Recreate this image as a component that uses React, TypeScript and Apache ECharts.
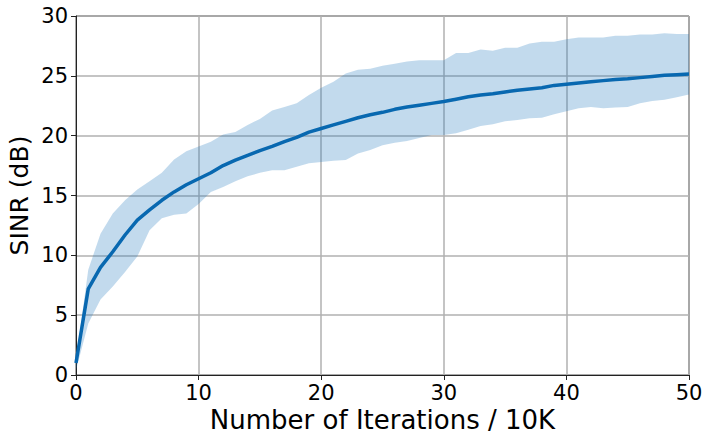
import React, { useEffect, useRef } from "react";
import * as echarts from "echarts";

const iterations: number[] = Array.from({ length: 51 }, (_, i) => i);

const meanSinr: number[] = [
  1.0, 7.2, 9.0, 10.3, 11.7, 12.95, 13.8, 14.6, 15.3, 15.9,
  16.4, 16.9, 17.5, 17.95, 18.35, 18.75, 19.1, 19.5, 19.85, 20.3,
  20.6, 20.9, 21.2, 21.5, 21.75, 21.95, 22.2, 22.4, 22.55, 22.7,
  22.85, 23.05, 23.25, 23.4, 23.5, 23.65, 23.8, 23.9, 24.0, 24.2,
  24.3, 24.4, 24.5, 24.6, 24.7, 24.75, 24.85, 24.95, 25.05, 25.1,
  25.15,
];

const upperSinr: number[] = [
  1.3, 8.8, 11.8, 13.5, 14.6, 15.5, 16.2, 16.9, 18.0, 18.7,
  19.1, 19.5, 20.1, 20.3, 20.9, 21.4, 22.1, 22.4, 22.7, 23.4,
  24.0, 24.5, 25.2, 25.5, 25.6, 25.85, 26.0, 26.2, 26.3, 26.3,
  26.3, 26.9, 26.9, 27.2, 27.1, 27.35, 27.35, 27.7, 27.85, 27.85,
  28.05, 28.2, 28.2, 28.2, 28.35, 28.35, 28.45, 28.45, 28.55, 28.5,
  28.5,
];

const lowerSinr: number[] = [
  0.4, 4.3, 6.3, 7.4, 8.6, 9.9, 12.1, 13.1, 13.4, 13.5,
  14.3, 15.3, 15.7, 16.2, 16.6, 16.9, 17.1, 17.1, 17.4, 17.7,
  17.8, 17.9, 17.97, 18.5, 18.8, 19.2, 19.4, 19.55, 19.8, 20.05,
  20.05, 20.2, 20.5, 20.8, 20.95, 21.2, 21.3, 21.45, 21.5, 21.8,
  22.05, 22.3, 22.4, 22.3, 22.35, 22.4, 22.7, 22.9, 23.0, 23.2,
  23.45,
];

const xTicks = { min: 0, max: 50, interval: 10 };
const yTicks = { min: 0, max: 30, interval: 5 };

const FONT = "DejaVu Sans";

export default function App() {
  const ref = useRef<HTMLDivElement>(null);

  useEffect(() => {
    if (!ref.current) return;
    const chart = echarts.init(ref.current, undefined, { renderer: "svg" });
    const gridLine = { show: true, lineStyle: { color: "#b0b0b0", width: 1.5 } };
    chart.setOption({
      animation: false,
      grid: {
        left: 76,
        right: 15,
        top: 16,
        bottom: 59,
        outerBoundsMode: "none",
        containLabel: false,
        show: true,
        borderColor: "#222",
        borderWidth: 1,
        backgroundColor: "transparent",
      },
      xAxis: {
        type: "value",
        min: xTicks.min,
        max: xTicks.max,
        interval: xTicks.interval,
        name: "Number of Iterations / 10K",
        nameLocation: "middle",
        nameGap: 34,
        nameMoveOverlap: false,
        nameTextStyle: { fontFamily: FONT, fontSize: 26, color: "#000", lineHeight: 22 },
        axisLine: { show: true, lineStyle: { color: "#222", width: 1 } },
        axisTick: { show: true, inside: false, length: 5, lineStyle: { color: "#222" } },
        axisLabel: { fontFamily: FONT, fontSize: 21, color: "#000", margin: 8, lineHeight: 20 },
        splitLine: gridLine,
      },
      yAxis: {
        type: "value",
        min: yTicks.min,
        max: yTicks.max,
        interval: yTicks.interval,
        name: "SINR (dB)",
        nameLocation: "middle",
        nameGap: 44,
        nameRotate: 90,
        nameMoveOverlap: false,
        nameTextStyle: { fontFamily: FONT, fontSize: 25, color: "#000" },
        axisLine: { show: true, lineStyle: { color: "#222", width: 1 } },
        axisTick: { show: true, inside: false, length: 5, lineStyle: { color: "#222" } },
        axisLabel: { fontFamily: FONT, fontSize: 21, color: "#000", margin: 8 },
        splitLine: gridLine,
      },
      series: [
        {
          name: "band",
          type: "custom",
          data: iterations.map((x, i) => [x, lowerSinr[i], upperSinr[i]]),
          encode: { x: 0, y: [1, 2] },
          z: 1,
          renderItem: (params: any, api: any) => {
            if (params.dataIndex !== 0) return null;
            const top: number[][] = iterations.map((x, i) => api.coord([x, upperSinr[i]]));
            const bottom: number[][] = iterations
              .map((x, i) => api.coord([x, lowerSinr[i]]))
              .reverse();
            return {
              type: "polygon",
              shape: { points: top.concat(bottom) },
              style: { fill: "rgba(30,120,190,0.27)", stroke: "none" },
            };
          },
        },
        {
          name: "mean",
          type: "line",
          symbol: "none",
          lineStyle: { color: "#0868b0", width: 3.5 },
          data: iterations.map((x, i) => [x, meanSinr[i]]),
          z: 3,
        },
      ],
    });
    return () => chart.dispose();
  }, []);

  return <div ref={ref} style={{ width: 704, height: 434, position: "absolute", left: 0, top: 0 }} />;
}
